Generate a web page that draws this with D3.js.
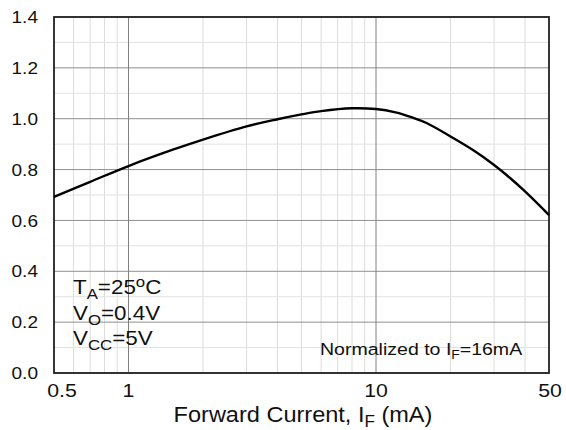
<!DOCTYPE html>
<html>
<head>
<meta charset="utf-8">
<script src="https://cdn.jsdelivr.net/npm/d3@7"></script>
<style>
  body { margin: 0; background: #fff; }
  text { font-family: "Liberation Sans", Arial, sans-serif; fill: #111; }
</style>
</head>
<body>
<svg id="chart" width="566" height="430"></svg>
<script>
// forward current (mA) and normalized output current
var currents = [0.5, 0.7, 1, 1.5, 2, 3, 4, 5, 6, 8, 10, 12, 14, 16, 20, 25, 30, 35, 40, 50];
var ratio = [0.693, 0.752, 0.814, 0.877, 0.918, 0.970, 0.998, 1.017, 1.030, 1.041, 1.038, 1.025, 1.005, 0.983, 0.930, 0.873, 0.818, 0.765, 0.714, 0.621];

var xTickVals = [0.5, 1, 10, 50];
var xTickText = ["0.5", "1", "10", "50"];
var yTickVals = [0, 0.2, 0.4, 0.6, 0.8, 1.0, 1.2, 1.4];
var xMinor = [0.6, 0.7, 0.8, 0.9, 2, 3, 4, 5, 6, 7, 8, 9, 20, 30, 40];
var yMinor = [0.1, 0.3, 0.5, 0.7, 0.9, 1.1, 1.3];

var margin = {left: 54, right: 17, top: 17, bottom: 57};
var W = 566, H = 430;
var sx = 1.12; // the lettering in the original is a little wide

var svg = d3.select('#chart');

var x = d3.scaleLog().domain([0.5, 50]).range([margin.left, W - margin.right]);
var y = d3.scaleLinear().domain([0, 1.4]).range([H - margin.bottom, margin.top]);

function place(px, py, s) {
    return 'translate(' + px + ',' + py + ') scale(' + (s || sx) + ',1)';
}

var grid = svg.append('g');

// light minor grid first
grid.selectAll('.vminor').data(xMinor).enter().append('line')
    .attr('x1', d => x(d)).attr('x2', d => x(d))
    .attr('y1', y(0)).attr('y2', y(1.4))
    .attr('stroke', '#dcdcdc').attr('stroke-width', 1);

grid.selectAll('.hminor').data(yMinor).enter().append('line')
    .attr('x1', x(0.5)).attr('x2', x(50))
    .attr('y1', d => y(d)).attr('y2', d => y(d))
    .attr('stroke', '#e2e2e2').attr('stroke-width', 1);

// major grid
grid.selectAll('.hmajor').data(yTickVals).enter().append('line')
    .attr('x1', x(0.5)).attr('x2', x(50))
    .attr('y1', d => y(d)).attr('y2', d => y(d))
    .attr('stroke', '#8f8f8f').attr('stroke-width', 1);

grid.selectAll('.vmajor').data([1, 10]).enter().append('line')
    .attr('x1', d => x(d)).attr('x2', d => x(d))
    .attr('y1', y(0)).attr('y2', y(1.4))
    .attr('stroke', '#808080').attr('stroke-width', 1);

// frame
svg.append('rect')
    .attr('x', x(0.5)).attr('y', y(1.4))
    .attr('width', x(50) - x(0.5)).attr('height', y(0) - y(1.4))
    .attr('fill', 'none').attr('stroke', '#222').attr('stroke-width', 1.8);

// curve
var line = d3.line()
    .x((d, i) => x(currents[i]))
    .y(d => y(d))
    .curve(d3.curveCatmullRom.alpha(0.5));

svg.append('path')
    .datum(ratio)
    .attr('d', line)
    .attr('fill', 'none')
    .attr('stroke', '#000')
    .attr('stroke-width', 2.4);

// y tick labels
svg.selectAll('.ylab').data(yTickVals).enter().append('text')
    .attr('transform', d => place(38, y(d)))
    .attr('dy', '0.36em')
    .attr('text-anchor', 'end')
    .attr('font-size', '17px')
    .text(d => d.toFixed(1));

// x tick labels
svg.selectAll('.xlab').data(xTickVals).enter().append('text')
    .attr('transform', (d, i) => place(x(d) + (i == 0 ? 8 : (i == 3 ? 1 : 0)), 397))
    .attr('text-anchor', 'middle')
    .attr('font-size', '19px')
    .text((d, i) => xTickText[i]);

// axis title
var title = svg.append('text')
    .attr('transform', place(303, 422, 1.07))
    .attr('text-anchor', 'middle')
    .attr('font-size', '22px');
title.append('tspan').text('Forward Current, I');
title.append('tspan').attr('font-size', '16px').attr('dy', 5).text('F');
title.append('tspan').attr('dy', -5).text(' (mA)');

// conditions
var cond = svg.append('g').attr('font-size', '20px');

var t1 = cond.append('text').attr('transform', place(73, 294));
t1.append('tspan').text('T');
t1.append('tspan').attr('font-size', '15px').attr('dy', 5).text('A');
t1.append('tspan').attr('dy', -5).text('=25');
t1.append('tspan').attr('font-size', '15px').attr('dy', -7).text('o');
t1.append('tspan').attr('dy', 7).text('C');

var t2 = cond.append('text').attr('transform', place(73, 320));
t2.append('tspan').text('V');
t2.append('tspan').attr('font-size', '15px').attr('dy', 5).text('O');
t2.append('tspan').attr('dy', -5).text('=0.4V');

var t3 = cond.append('text').attr('transform', place(73, 345));
t3.append('tspan').text('V');
t3.append('tspan').attr('font-size', '15px').attr('dy', 5).text('CC');
t3.append('tspan').attr('dy', -5).text('=5V');

var norm = svg.append('text')
    .attr('transform', place(320, 355, 1.15))
    .attr('font-size', '17px');
norm.append('tspan').text('Normalized to I');
norm.append('tspan').attr('font-size', '12px').attr('dy', 4).text('F');
norm.append('tspan').attr('dy', -4).text('=16mA');
</script>
</body>
</html>
